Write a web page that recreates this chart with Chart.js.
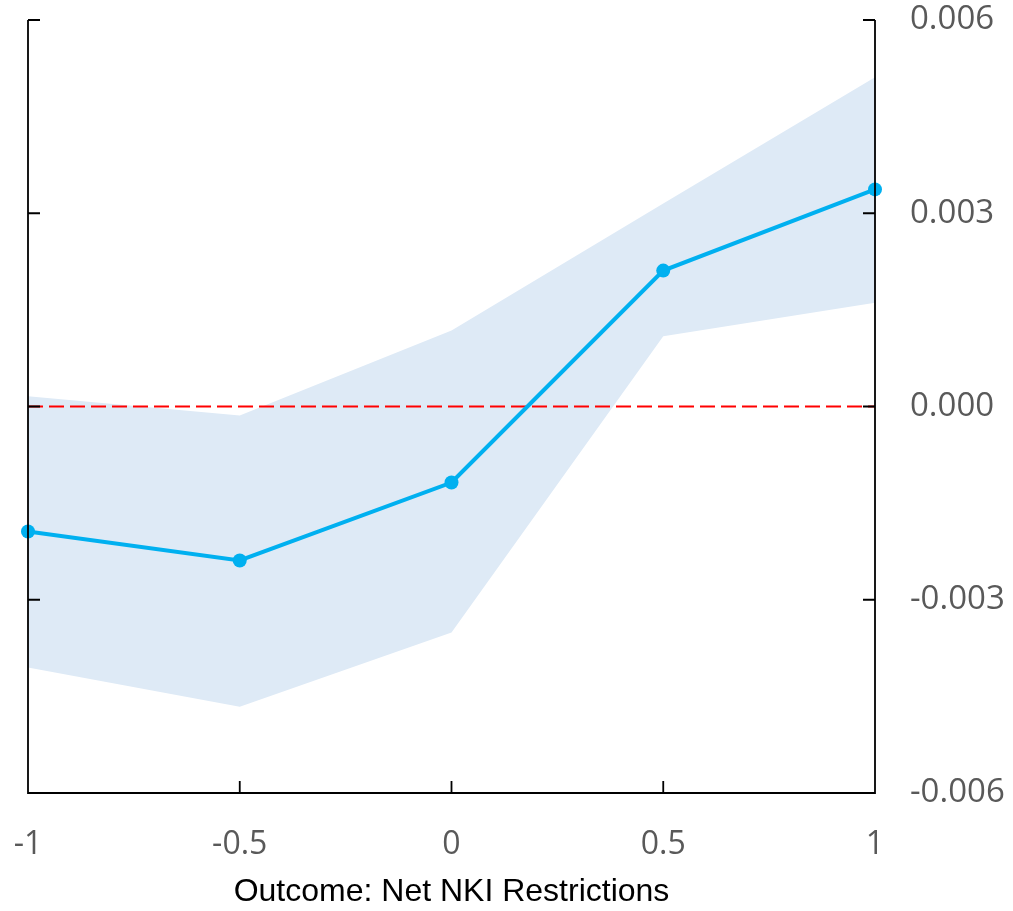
<!DOCTYPE html>
<html>
<head>
<meta charset="utf-8">
<script src="https://cdn.jsdelivr.net/npm/chart.js@4/dist/chart.umd.min.js"></script>
<style>
  body { margin: 0; background: #fff; }
  #wrap { width: 1013px; height: 911px; }
</style>
</head>
<body>
<div id="wrap"><canvas id="chart" width="1013" height="911"></canvas></div>
<script>
const xValues = [-1, -0.5, 0, 0.5, 1];
const estimate = [-0.00194, -0.00239, -0.00118, 0.00211, 0.00337];
const upperBand = [0.00016, -0.00014, 0.00118, 0.00315, 0.00511];
const lowerBand = [-0.00405, -0.00466, -0.00351, 0.00109, 0.00161];
const zeroX = [-1, 1];
const zeroY = [0, 0];
const xTicks = [-1, -0.5, 0, 0.5, 1];
const yTicks = [-0.006, -0.003, 0, 0.003, 0.006];
const xTitle = "Outcome: Net NKI Restrictions";

const toPoints = (xs, ys) => xs.map((x, i) => ({ x: x, y: ys[i] }));

// axis lines and inward ticks, drawn over the band
const axisPlugin = {
  id: "axisPlugin",
  afterDatasetsDraw(chart) {
    const ctx = chart.ctx;
    const a = chart.chartArea;
    const xs = chart.scales.x;
    const ys = chart.scales.y;
    const len = 12;
    ctx.save();
    ctx.strokeStyle = "#000";
    ctx.lineWidth = 1.8;
    ctx.beginPath();
    ctx.moveTo(a.left, a.top);
    ctx.lineTo(a.left, a.bottom);
    ctx.lineTo(a.right, a.bottom);
    ctx.lineTo(a.right, a.top);
    yTicks.forEach(v => {
      const py = ys.getPixelForValue(v);
      ctx.moveTo(a.left, py);
      ctx.lineTo(a.left + len, py);
      ctx.moveTo(a.right, py);
      ctx.lineTo(a.right - len, py);
    });
    xTicks.forEach(v => {
      const px = xs.getPixelForValue(v);
      ctx.moveTo(px, a.bottom);
      ctx.lineTo(px, a.bottom - len);
    });
    ctx.stroke();
    ctx.restore();
  }
};

new Chart("chart", {
  type: "line",
  data: {
    datasets: [
      {
        label: "Estimate",
        data: toPoints(xValues, estimate),
        borderColor: "#00B0F0",
        backgroundColor: "#00B0F0",
        borderWidth: 4,
        pointRadius: 7,
        pointBorderWidth: 0,
        fill: false,
        clip: false
      },
      {
        label: "Zero",
        data: toPoints(zeroX, zeroY),
        borderColor: "#FF0000",
        borderWidth: 2,
        borderDash: [15, 6],
        pointRadius: 0,
        fill: false
      },
      {
        label: "Upper",
        data: toPoints(xValues, upperBand),
        borderWidth: 0,
        borderColor: "rgba(0,0,0,0)",
        backgroundColor: "#DEEAF6",
        pointRadius: 0,
        fill: "+1"
      },
      {
        label: "Lower",
        data: toPoints(xValues, lowerBand),
        borderWidth: 0,
        borderColor: "rgba(0,0,0,0)",
        pointRadius: 0,
        fill: false
      }
    ]
  },
  options: {
    responsive: false,
    animation: false,
    devicePixelRatio: 1,
    layout: { padding: { top: 20, left: 0, right: 0, bottom: 0 } },
    plugins: {
      legend: { display: false },
      tooltip: { enabled: false }
    },
    scales: {
      x: {
        type: "linear",
        min: -1,
        max: 1,
        afterBuildTicks: s => { s.ticks = xTicks.map(v => ({ value: v })); },
        afterFit: s => { s.height = 118; s.paddingLeft = 0; s.paddingRight = 0; },
        grid: { display: false, drawTicks: false },
        border: { display: false },
        ticks: {
          padding: 33,
          color: "#595959",
          font: { family: "Open Sans", size: 32 },
          maxRotation: 0,
          callback: v => String(v)
        },
        title: {
          display: true,
          text: xTitle,
          color: "#000",
          font: { family: "Liberation Sans", size: 32 },
          padding: { top: 2, bottom: 0 }
        }
      },
      yl: {
        position: "left",
        min: -0.006,
        max: 0.006,
        afterFit: s => { s.width = 28; s.paddingTop = 0; s.paddingBottom = 0; },
        grid: { display: false, drawTicks: false },
        border: { display: false },
        ticks: { display: false }
      },
      y: {
        position: "right",
        min: -0.006,
        max: 0.006,
        afterBuildTicks: s => { s.ticks = yTicks.map(v => ({ value: v })); },
        afterFit: s => { s.width = 138; s.paddingTop = 0; s.paddingBottom = 0; },
        grid: { display: false, drawTicks: false },
        border: { display: false },
        ticks: {
          padding: 35,
          color: "#595959",
          font: { family: "Open Sans", size: 33 },
          callback: v => v.toFixed(3)
        }
      }
    }
  },
  plugins: [axisPlugin]
});
</script>
</body>
</html>
